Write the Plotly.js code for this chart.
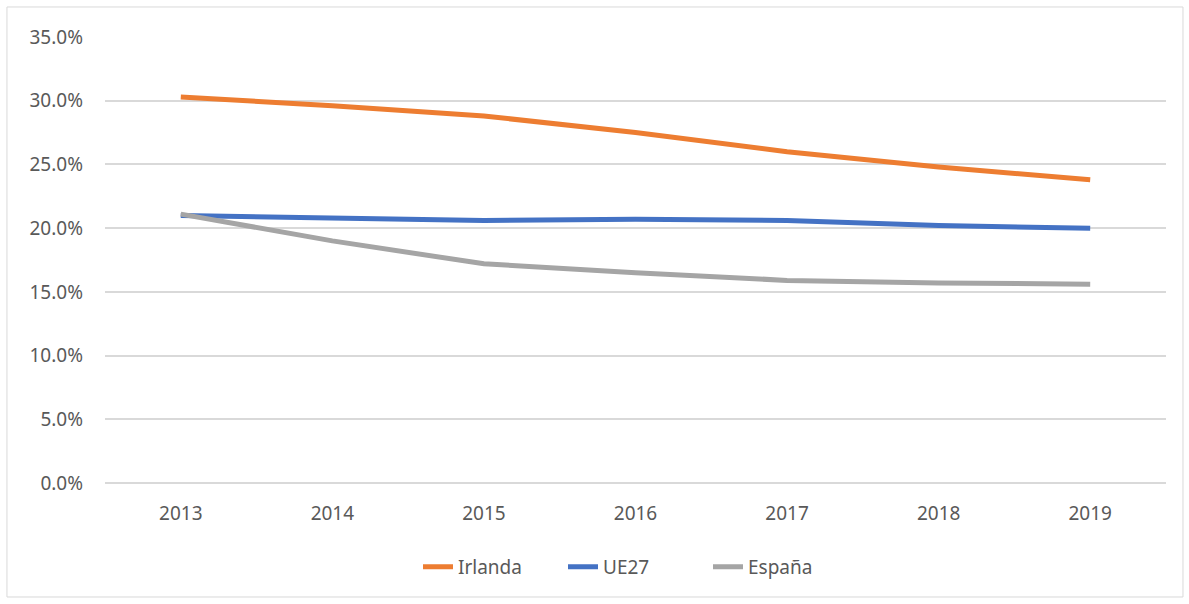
<!DOCTYPE html>
<html>
<head>
<meta charset="utf-8">
<script src="https://cdn.plot.ly/plotly-3.0.1.min.js"></script>
<style>
  body { margin: 0; background: #fff; }
  #plotArea { width: 1189px; height: 604px; }
</style>
</head>
<body>
<div id="plotArea"></div>
<script>
// years on the x axis
let years = ["2013", "2014", "2015", "2016", "2017", "2018", "2019"];

// values (share, 0-1)
let irlanda = [0.303, 0.296, 0.288, 0.275, 0.260, 0.248, 0.238];
let ue27 = [0.210, 0.208, 0.206, 0.207, 0.206, 0.202, 0.200];
let espana = [0.211, 0.190, 0.172, 0.165, 0.159, 0.157, 0.156];

let yTicks = [0, 0.05, 0.10, 0.15, 0.20, 0.25, 0.30, 0.35];

let trace1 = {
  x: years, y: irlanda, name: "Irlanda",
  mode: "lines", type: "scatter",
  line: { color: "#ED7D31", width: 5 }
};
let trace2 = {
  x: years, y: ue27, name: "UE27",
  mode: "lines", type: "scatter",
  line: { color: "#4472C4", width: 5 }
};
let trace3 = {
  x: years, y: espana, name: "España",
  mode: "lines", type: "scatter",
  line: { color: "#A5A5A5", width: 5 }
};

let data = [trace1, trace2, trace3];

let layout = {
  width: 1189, height: 604,
  margin: { l: 105, r: 23, t: 37, b: 121 },
  paper_bgcolor: "#fff",
  plot_bgcolor: "#fff",
  font: { family: "Noto Sans, sans-serif", size: 19, color: "#595959" },
  showlegend: true,
  legend: {
    orientation: "h", x: 0.5, xanchor: "center",
    y: -0.188, yanchor: "middle",
    entrywidth: 100,
    font: { size: 19, color: "#595959" }
  },
  xaxis: {
    type: "category",
    range: [-0.5, 6.5],
    showgrid: false, zeroline: false, showline: false,
    ticks: "", ticklabelstandoff: 17
  },
  yaxis: {
    range: [0, 0.35],
    tickvals: yTicks,
    tickformat: ".1%",
    showgrid: true, gridcolor: "#d9d9d9", gridwidth: 1.5,
    zeroline: true, zerolinecolor: "#d9d9d9", zerolinewidth: 1.5,
    showline: false, ticks: "", ticklabelstandoff: 21
  },
  shapes: [{
    type: "rect", xref: "paper", yref: "paper",
    x0: -0.0924, x1: 1.016, y0: -0.2556, y1: 1.0673,
    line: { color: "#d9d9d9", width: 1 }, fillcolor: "rgba(0,0,0,0)",
    layer: "below"
  }]
};

Plotly.newPlot("plotArea", data, layout, { displayModeBar: false });
</script>
</body>
</html>
